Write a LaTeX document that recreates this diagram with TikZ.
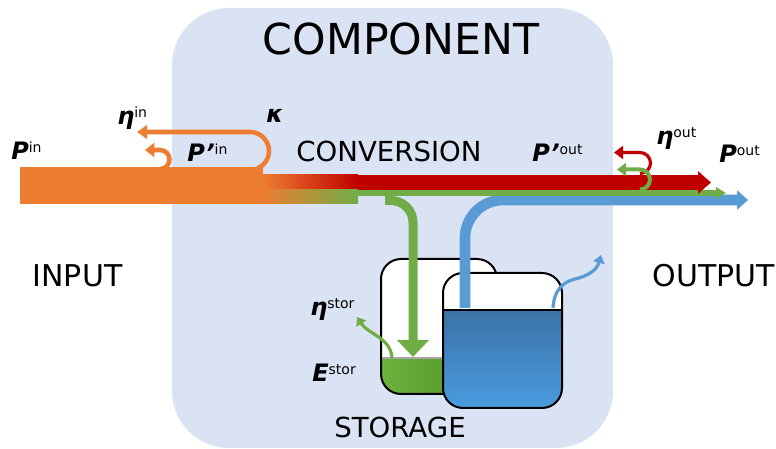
\documentclass[tikz,border=0pt]{standalone}
\usepackage{fontspec}
\setmainfont{DejaVu Sans}
\usetikzlibrary{arrows.meta}
\definecolor{cOrange}{HTML}{ED7D31}
\definecolor{cRed}{HTML}{C00000}
\definecolor{cGreen}{HTML}{70AD47}
\definecolor{cBlue}{HTML}{5B9BD5}
\definecolor{cBox}{HTML}{DAE3F3}
\definecolor{tgL}{HTML}{6CB23C}
\definecolor{tgR}{HTML}{4F8F2A}
\definecolor{tbT}{HTML}{3A72A6}
\definecolor{tbB}{HTML}{4A9BDF}
\newcommand\lab[2]{{\fontsize{18}{20}\selectfont\bfseries\itshape #1}\raisebox{5.5pt}{\fontsize{10.5}{12}\selectfont #2}}
\begin{document}
\begin{tikzpicture}[x=0.75pt,y=-0.75pt,
  bigtxt/.style={anchor=base,inner sep=0pt,font=\fontsize{22.5}{26}\selectfont},
  midtxt/.style={anchor=base,inner sep=0pt,font=\fontsize{20.7}{24}\selectfont},
  lbl/.style={anchor=base west,inner sep=0pt},
  tankline/.style={black,line width=1.5pt,rounded corners=15pt},
  loopline/.style={line width=3.4pt,line cap=butt}]
\useasboundingbox (0,0) rectangle (776,449);
\fill[white] (0,0) rectangle (776,449);
% component box
\fill[cBox, rounded corners=42.75pt] (172,8) rectangle (613,448);
% texts
\node[anchor=base,inner sep=0pt,font=\fontsize{32}{36}\selectfont] (tcomp) at (401,55) {COMPONENT};
\node[midtxt] (tconv) at (389,162) {CONVERSION};
\node[bigtxt] (tin) at (77.5,287) {INPUT};
\node[bigtxt] (tout) at (714,287) {OUTPUT};
\node[midtxt] (tstor) at (400,438) {STORAGE};
% coordinates
\coordinate (gtS) at (392,358);
\coordinate (gtE) at (357,317);
\coordinate (btS) at (553,308);
\coordinate (btE) at (601,255);
\coordinate (bpS) at (465,308);
\coordinate (bpC) at (465,200);
\coordinate (bpE) at (748,200);
\coordinate (gpS) at (385,200.5);
\coordinate (gpC) at (413,200.5);
\coordinate (gpE) at (413,357);
\coordinate (rS) at (358,182.5);
\coordinate (rE) at (711,182.5);
\coordinate (gS) at (358,193);
\coordinate (gE) at (726,193);
% back tank
\begin{scope}
\clip[rounded corners=15pt] (381,259) rectangle (497,394);
\fill[white] (381,259) rectangle (497,394);
\shade[left color=tgL, right color=tgR] (381,358) rectangle (497,394);
\draw[black!35, line width=1.2pt] (381,358) -- (497,358);
\end{scope}
\draw[tankline] (381,259) rectangle (497,394);
% front tank
\begin{scope}
\clip[rounded corners=15pt] (443,273) rectangle (562,408);
\fill[white] (443,273) rectangle (562,408);
\shade[top color=tbT, bottom color=tbB] (443,310) rectangle (562,408);
\draw[black, line width=1.5pt] (443,310) -- (562,310);
\end{scope}
\draw[tankline] (443,273) rectangle (562,408);
% blue pipe
\draw[cBlue, line width=8pt, rounded corners=28.5pt, -{Triangle[length=8.25pt,width=14.25pt]}] (bpS) -- (bpC) -- (bpE);
% green pipe
\draw[cGreen, line width=6.75pt, rounded corners=16.5pt, -{Triangle[length=12.75pt,width=23.25pt]}] (gpS) -- (gpC) -- (gpE);
% orange input bar and gradients
\fill[cOrange] (20,167) rectangle (263,204);
\shade[left color=cOrange, right color=cRed] (263,175) rectangle (358,190);
\shade[left color=cOrange, right color=cGreen] (263,190) rectangle (358,204);
% green thin output
\draw[cGreen, line width=4.5pt, -{Triangle[length=7.5pt,width=8.5pt]}] (gS) -- (gE);
% red output
\draw[cRed, line width=11.25pt, -{Triangle[length=9.75pt,width=16.5pt]}] (rS) -- (rE);
% red loss loop
\draw[cRed, line width=2.4pt, -{Triangle[length=6.75pt,width=9.75pt]}] (640,173.5) arc[start angle=90,end angle=-90,radius=10.5] -- (614,152.5);
% green loss loop
\draw[cGreen, line width=3pt, -{Triangle[length=6.75pt,width=9.75pt]}] (640,189.5) arc[start angle=90,end angle=-90,radius=10] -- (617,169.5);
% orange loops
\draw[cOrange, loopline, -{Triangle[length=7.5pt,width=10pt]}] (250,170) arc[start angle=90,end angle=-90,radius=19] -- (137,132);
\draw[cOrange, loopline, -{Triangle[length=7pt,width=10.5pt]}] (160,169) arc[start angle=90,end angle=-90,radius=9.5] -- (145,150);
% storage losses
\draw[cGreen, line width=2.4pt, -{Triangle[length=6pt,width=8.5pt]}] (gtS) .. controls (391,338) and (368,334) .. (gtE);
\draw[cBlue, line width=2.4pt, -{Triangle[length=6pt,width=8.5pt]}] (btS) .. controls (554,290) and (563,282) .. (575,279) .. controls (588,276) and (597,270) .. (btE);
% labels
\node[lbl] (lPin) at (11,160) {\lab{P}{in}};
\node[lbl] (lEin) at (117,125) {\lab{η}{in}};
\node[lbl] (lK) at (266,123) {\lab{κ}{}};
\node[lbl] (lPpin) at (187,162) {\lab{P’}{in}};
\node[lbl] (lPpout) at (532,162) {\lab{P’}{out}};
\node[lbl] (lEout) at (656,145) {\lab{η}{out}};
\node[lbl] (lPout) at (719,163) {\lab{P}{out}};
\node[lbl] (lEst) at (310,316) {\lab{η}{stor}};
\node[lbl] (lEs) at (312,382) {\lab{E}{stor}};
\end{tikzpicture}
\end{document}
